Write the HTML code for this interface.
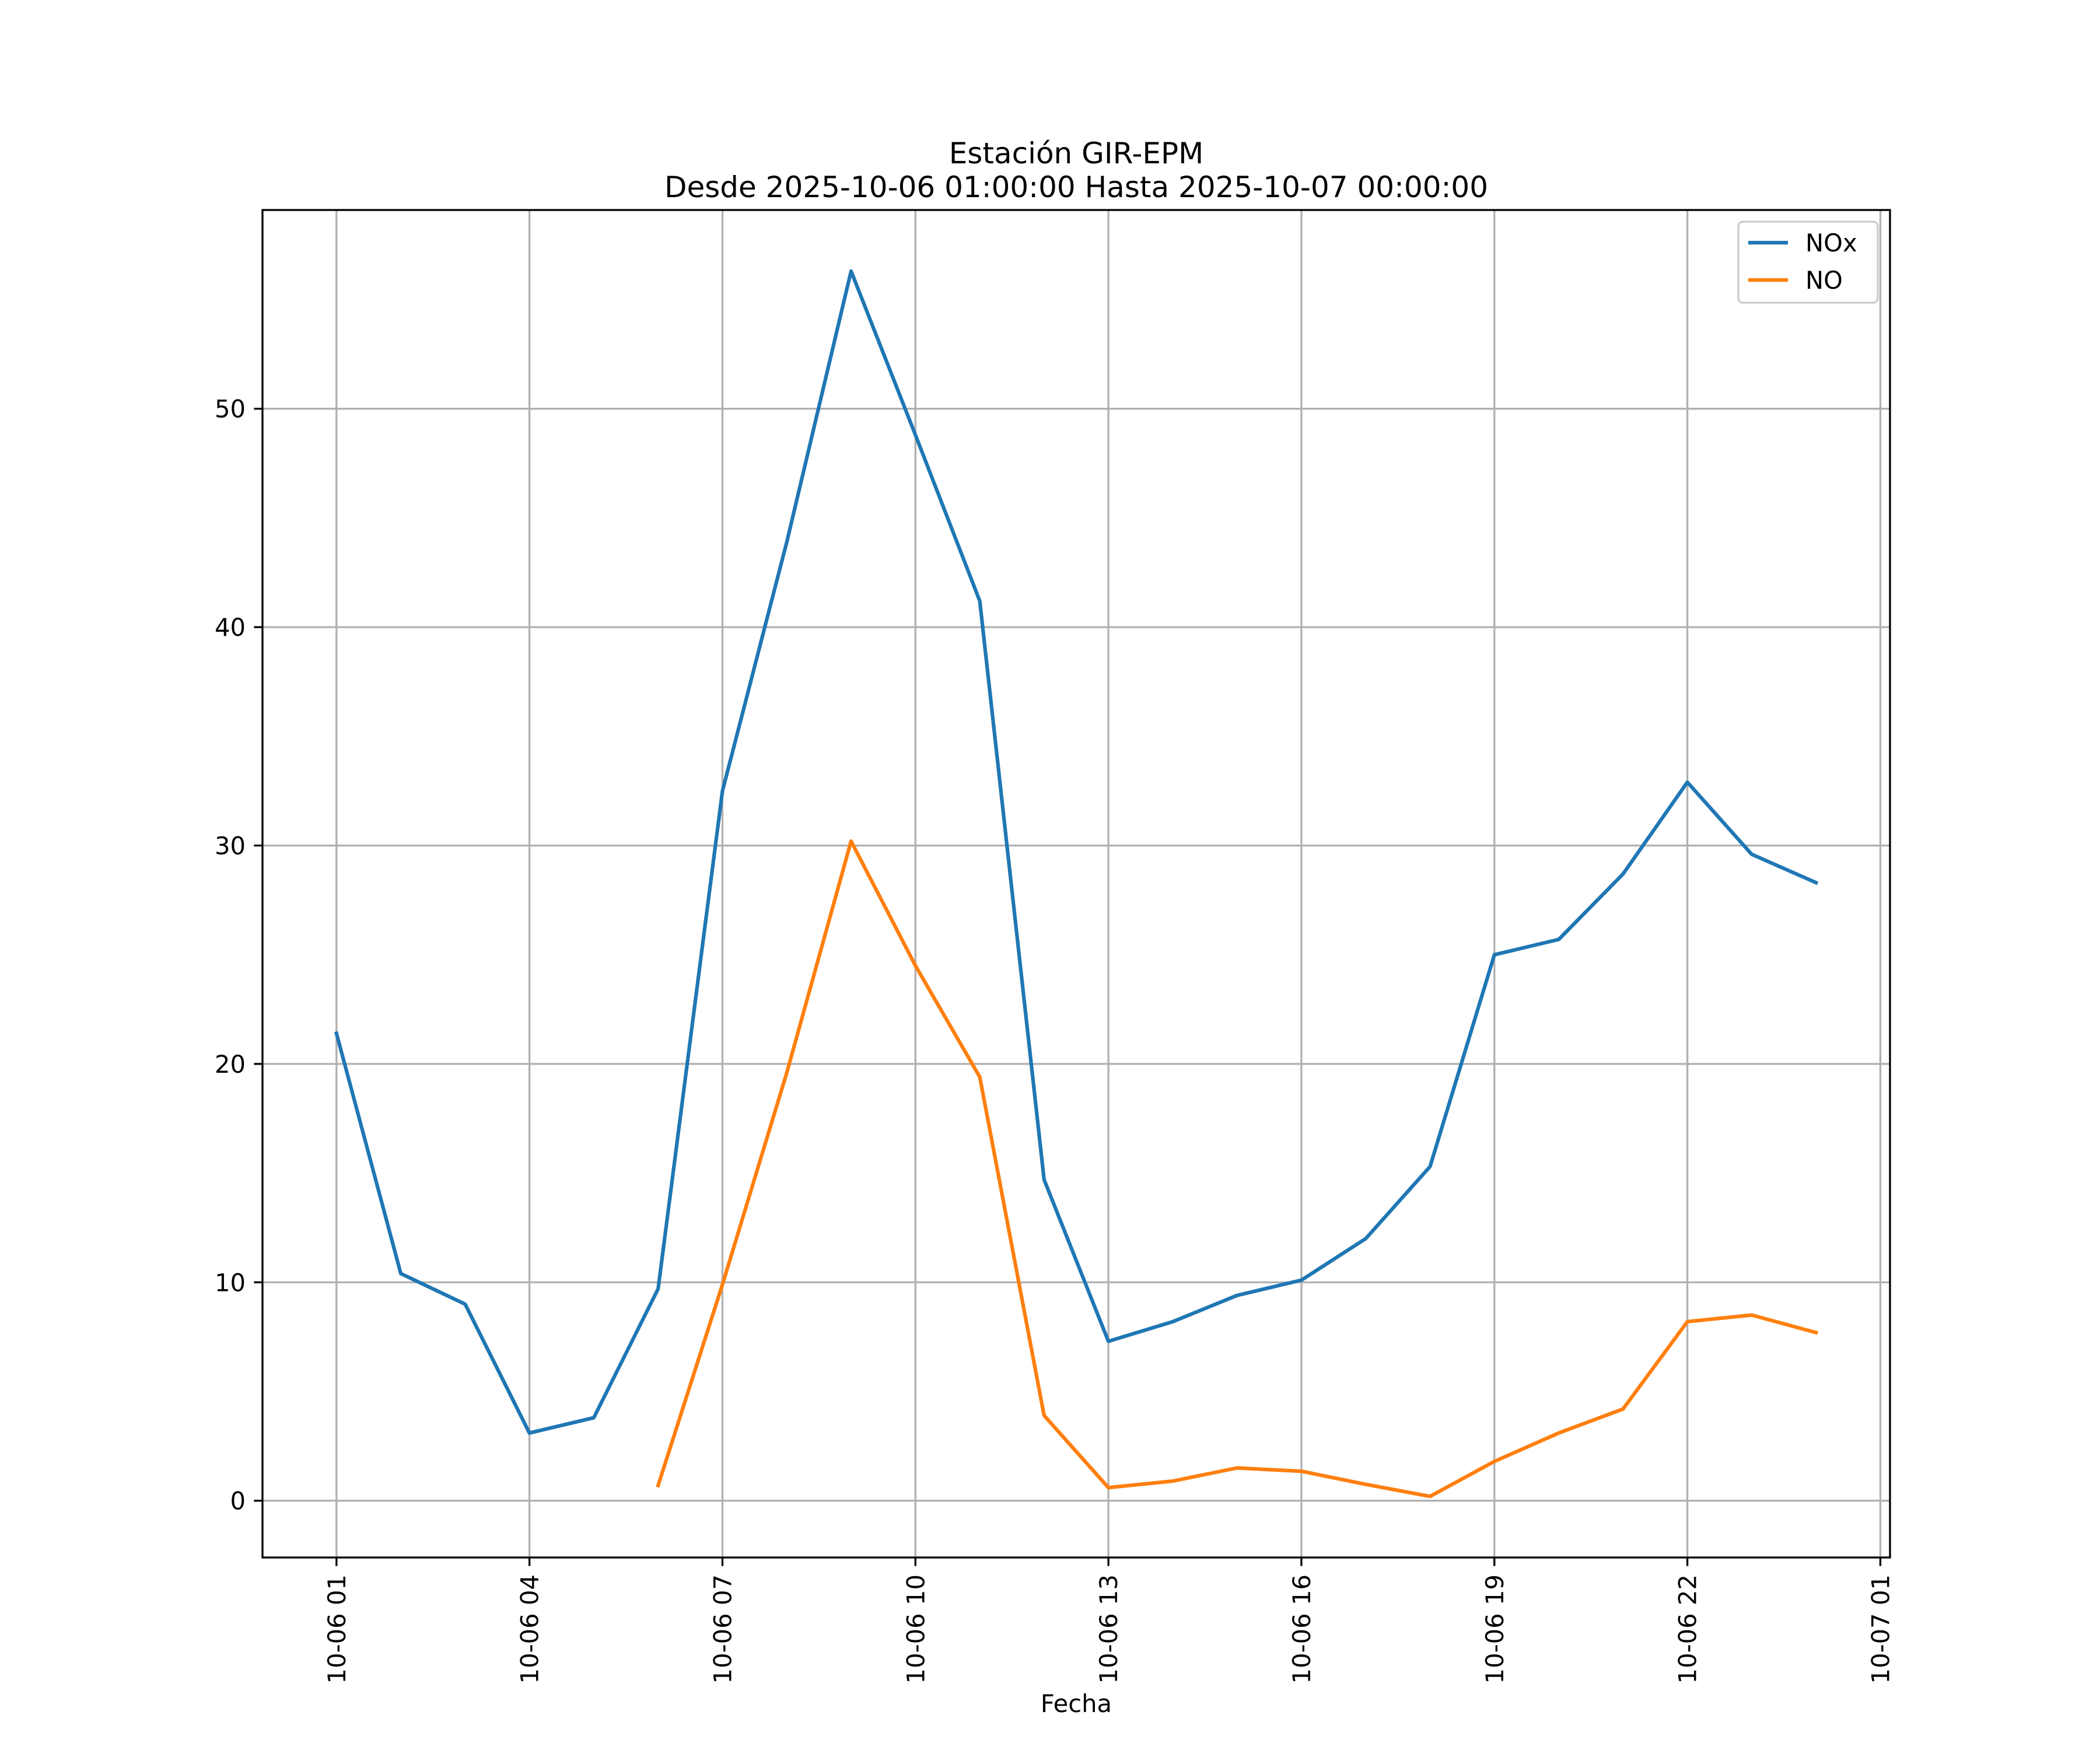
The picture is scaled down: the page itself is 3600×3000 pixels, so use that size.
<!DOCTYPE html>
<html><head><meta charset="utf-8"><style>
html,body{margin:0;padding:0;background:#fff}
svg{display:block}
text{font-family:"DejaVu Sans","Liberation Sans",sans-serif;fill:#000}
</style></head><body>
<svg id="chart" width="3600" height="3000" viewBox="0 0 3600 3000" xmlns="http://www.w3.org/2000/svg">
<rect width="3600" height="3000" fill="#fff"/>
<text x="1845" y="280" font-size="50" text-anchor="middle">Estación GIR-EPM</text>
<text x="1845" y="338" font-size="50" text-anchor="middle">Desde 2025-10-06 01:00:00 Hasta 2025-10-07 00:00:00</text>
<g id="grid"></g>
<g id="series"></g>
<rect x="450" y="360" width="2790" height="2310" fill="none" stroke="#000" stroke-width="3.3"/>
<g id="ticks"></g>
<text x="1845" y="2935" font-size="41.7" text-anchor="middle">Fecha</text>
<g>
<rect x="2980" y="380" width="239" height="139" rx="8" fill="#fff" fill-opacity="0.8" stroke="#ccc" stroke-width="3.3"/>
<line x1="2997" y1="416" x2="3065" y2="416" stroke="#1f77b4" stroke-width="6.25"/>
<text x="3095" y="431" font-size="41.7">NOx</text>
<line x1="2997" y1="480" x2="3065" y2="480" stroke="#ff7f0e" stroke-width="6.25"/>
<text x="3095" y="495" font-size="41.7">NO</text>
</g>
</svg>
<script>
const hours = [1,2,3,4,5,6,7,8,9,10,11,12,13,14,15,16,17,18,19,20,21,22,23,24];
const noxValues = [21.4,10.4,9.0,3.1,3.8,9.7,32.5,43.9,56.3,48.8,41.2,14.7,7.3,8.2,9.4,10.1,12.0,15.3,25.0,25.7,28.7,32.9,29.6,28.3];
const noValues = [null,null,null,null,null,0.7,9.9,19.6,30.2,24.5,19.4,3.9,0.6,0.9,1.5,1.35,0.75,0.2,1.8,3.1,4.2,8.2,8.5,7.7];
const xTickHours = [1,4,7,10,13,16,19,22,25];
const xTickLabels = ["10-06 01","10-06 04","10-06 07","10-06 10","10-06 13","10-06 16","10-06 19","10-06 22","10-07 01"];
const yTicks = [0,10,20,30,40,50];

const NS="http://www.w3.org/2000/svg";
const L=450,R=3240,T=360,B=2670;
const xMin=1-1.15,xMax=24+1.15,yMin=-2.6,yMax=59.1;
function xs(h){return L+(h-xMin)/(xMax-xMin)*(R-L);}
function ys(v){return T+(yMax-v)/(yMax-yMin)*(B-T);}
function mk(tag,attrs,parent){const e=document.createElementNS(NS,tag);for(const k in attrs)e.setAttribute(k,attrs[k]);parent.appendChild(e);return e;}
const grid=document.getElementById('grid'),ticks=document.getElementById('ticks'),series=document.getElementById('series');

xTickHours.forEach((h,i)=>{
  const x=xs(h);
  const g=mk('line',{x1:x,y1:T,x2:x,y2:B,stroke:'#b0b0b0','stroke-width':3.3},grid);
  
  
  const t=mk('line',{x1:x,y1:B,x2:x,y2:B+14.6,stroke:'#000','stroke-width':3.3},ticks);
  
  
  const lb=mk('text',{x:0,y:0,'font-size':41.7,'text-anchor':'end',transform:`translate(${x+15},${B+29}) rotate(-90)`},ticks);
  lb.textContent=xTickLabels[i];
  
  
});
yTicks.forEach(v=>{
  const y=ys(v);
  const g=mk('line',{x1:L,y1:y,x2:R,y2:y,stroke:'#b0b0b0','stroke-width':3.3},grid);
  
  
  const t=mk('line',{x1:L-14.6,y1:y,x2:L,y2:y,stroke:'#000','stroke-width':3.3},ticks);
  
  
  const lb=mk('text',{x:L-29,y:y+15,'font-size':41.7,'text-anchor':'end'},ticks);
  lb.textContent=String(v);
  
  
});
function path(vals){let d='',pen=false;vals.forEach((v,i)=>{if(v===null){pen=false;return;}d+=(pen?'L':'M')+xs(hours[i]).toFixed(1)+' '+ys(v).toFixed(1)+' ';pen=true;});return d;}
const p1=mk('path',{d:path(noxValues),fill:'none',stroke:'#1f77b4','stroke-width':6.25,'stroke-linejoin':'round','stroke-linecap':'square'},series);


const p2=mk('path',{d:path(noValues),fill:'none',stroke:'#ff7f0e','stroke-width':6.25,'stroke-linejoin':'round','stroke-linecap':'square'},series);


</script>
</body></html>
